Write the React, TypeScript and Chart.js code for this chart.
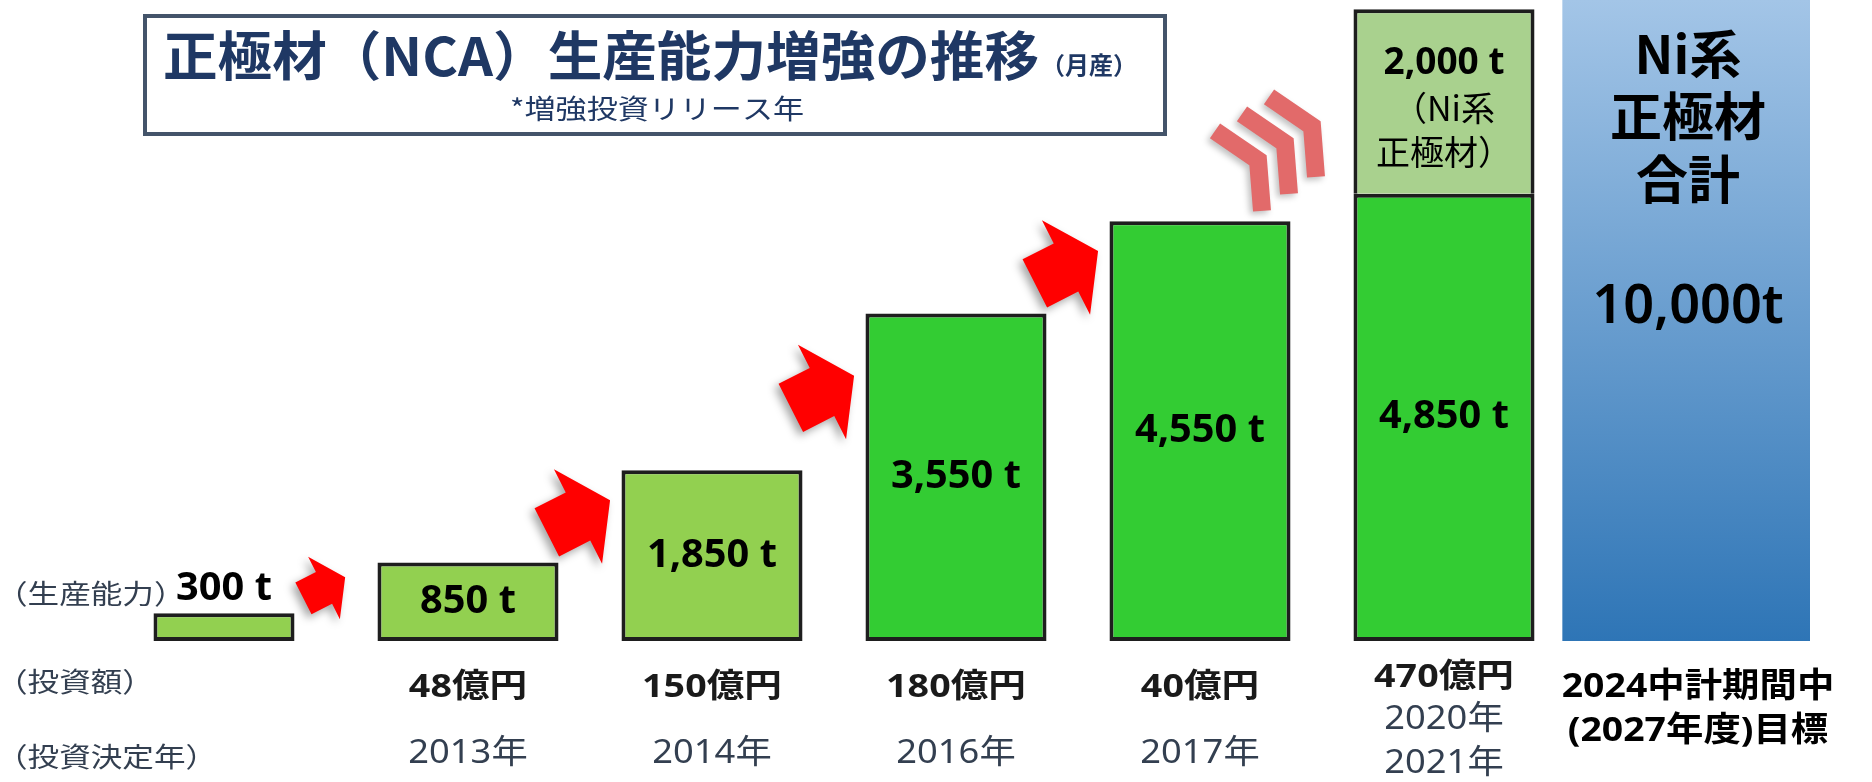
import React, { useEffect, useRef } from 'react';
import { Chart, registerables } from 'chart.js';

Chart.register(...registerables);

// ---------- data ----------
const categories = ['既存', '2013年', '2014年', '2016年', '2017年', '2020・2021年', '2027年度目標'];
const initialCapacity = [300, null, null, null, null, null, null];
const ncaCapacity = [null, 850, 1850, 3550, 4550, 4850, null];
const niCapacity = [null, null, null, null, null, 2000, null];
const targetTotal = [null, null, null, null, null, null, 10000];
const capacityLabels = ['300 t', '850 t', '1,850 t', '3,550 t', '4,550 t', '4,850 t', ''];
const niLabelLines = ['2,000 t', '（Ni系', '正極材）'];
const targetLines = ['Ni系', '正極材', '合計'];
const targetValueLabel = '10,000t';
const investAmounts = ['', '48億円', '150億円', '180億円', '40億円', '470億円', ''];
const decisionYears: string[][] = [[], ['2013年'], ['2014年'], ['2016年'], ['2017年'], ['2020年', '2021年'], []];
const targetPeriod = ['2024中計期間中', '(2027年度)目標'];
const rowLabels = ['（生産能力）', '（投資額）', '（投資決定年）'];
const titleMain = '正極材（NCA）生産能力増強の推移';
const titleUnit = '（月産）';
const titleNote = '*増強投資リリース年';
const barColors = ['#92D050', '#92D050', '#92D050', '#33CC33', '#33CC33', '#33CC33', '#33CC33'];

// ---------- styles ----------
const CJK = "'Noto Sans CJK JP', 'Noto Sans', sans-serif";
const LAT = "'Noto Sans', 'Noto Sans CJK JP', sans-serif";
const NAVY = '#1F3864';
const SLATE = '#333F50';
const BORDER = '#1E1E1E';

function drawText(
  ctx: CanvasRenderingContext2D,
  text: string,
  x: number,
  y: number,
  font: string,
  color: string,
  align: CanvasTextAlign = 'center',
  sx = 1
) {
  ctx.save();
  ctx.font = font;
  ctx.fillStyle = color;
  ctx.textAlign = align;
  ctx.textBaseline = 'middle';
  ctx.translate(x, y);
  ctx.scale(sx, 1);
  ctx.fillText(text, 0, 0);
  ctx.restore();
}

function drawArrow(ctx: CanvasRenderingContext2D, mx: number, my: number, s: number) {
  const th = (-27 * Math.PI) / 180;
  const ux = Math.cos(th), uy = Math.sin(th);
  const vx = -Math.sin(th), vy = Math.cos(th);
  const pts = [[-35, -27], [0, -27], [0, -53], [36, 0], [0, 53], [0, 27], [-35, 27]];
  ctx.save();
  ctx.fillStyle = '#FF0000';
  ctx.shadowColor = 'rgba(0,0,0,0.35)';
  ctx.shadowBlur = 8;
  ctx.shadowOffsetX = -4;
  ctx.shadowOffsetY = 4;
  ctx.beginPath();
  pts.forEach(([u, v], k) => {
    const px = mx + s * (u * ux + v * vx);
    const py = my + s * (u * uy + v * vy);
    if (k === 0) ctx.moveTo(px, py);
    else ctx.lineTo(px, py);
  });
  ctx.closePath();
  ctx.fill();
  ctx.restore();
}

function drawChevrons(ctx: CanvasRenderingContext2D, ax: number, ay: number) {
  ctx.save();
  ctx.strokeStyle = '#E26A6A';
  ctx.lineWidth = 18;
  ctx.lineJoin = 'miter';
  ctx.lineCap = 'butt';
  ctx.shadowColor = 'rgba(0,0,0,0.25)';
  ctx.shadowBlur = 6;
  ctx.shadowOffsetX = -3;
  ctx.shadowOffsetY = 3;
  for (let k = 2; k >= 0; k--) {
    const ox = ax + 27 * k, oy = ay - 17 * k;
    ctx.beginPath();
    ctx.moveTo(ox - 43, oy - 29.5);
    ctx.lineTo(ox, oy);
    ctx.lineTo(ox + 4, oy + 50.5);
    ctx.stroke();
  }
  ctx.restore();
}

const overlayPlugin = {
  id: 'overlay',
  afterDatasetsDraw(chart: any) {
    const ctx: CanvasRenderingContext2D = chart.ctx;
    const area = chart.chartArea;
    const metaInit = chart.getDatasetMeta(0).data;
    const metaNca = chart.getDatasetMeta(1).data;
    const metaNi = chart.getDatasetMeta(2).data;
    const metaTarget = chart.getDatasetMeta(3).data;
    const capEl = (i: number) => (initialCapacity[i] != null ? metaInit[i] : metaNca[i]);

    // title box
    ctx.save();
    ctx.fillStyle = '#FFFFFF';
    ctx.fillRect(145, 16, 1020, 118);
    ctx.strokeStyle = '#44546A';
    ctx.lineWidth = 4;
    ctx.strokeRect(145, 16, 1020, 118);
    ctx.restore();
    ctx.save();
    ctx.font = `bold 53px ${CJK}`;
    const w1 = ctx.measureText(titleMain).width;
    ctx.restore();
    const tsx = 876 / w1;
    drawText(ctx, titleMain, 163, 56, `bold 53px ${CJK}`, NAVY, 'left', tsx);
    drawText(ctx, titleUnit, 163 + w1 * tsx + 2, 65, `bold 24px ${CJK}`, NAVY, 'left', 1);
    drawText(ctx, titleNote, 657, 109, `27px ${CJK}`, NAVY, 'center', 1.15);

    // red arrows between consecutive capacity bars
    for (let i = 0; i < 4; i++) {
      const a = capEl(i), b = capEl(i + 1);
      const gapMid = (a.x + a.width / 2 + (b.x - b.width / 2)) / 2;
      const my = (a.y + b.y) / 2;
      drawArrow(ctx, gapMid - 12, my, i === 0 ? 0.66 : 1);
    }
    // chevrons between 2017 and 2020/2021 bars
    {
      const a = capEl(4), b = capEl(5);
      const gapMid = (a.x + a.width / 2 + (b.x - b.width / 2)) / 2;
      drawChevrons(ctx, gapMid - 64, a.y - 61);
    }

    // capacity labels
    for (let i = 0; i < capacityLabels.length; i++) {
      if (!capacityLabels[i]) continue;
      const el = capEl(i);
      const h = el.base - el.y;
      const y = h < 50 ? el.y - 24 : (el.y + el.base) / 2;
      drawText(ctx, capacityLabels[i], el.x, y, `bold 39px ${LAT}`, '#000', 'center', 1.02);
    }

    // Ni segment labels
    const ni = metaNi[5];
    const niC = (ni.y + ni.base) / 2;
    drawText(ctx, niLabelLines[0], ni.x, niC - 38, `bold 37px ${LAT}`, '#000');
    drawText(ctx, niLabelLines[1], ni.x, niC + 7, `34px ${CJK}`, '#000');
    drawText(ctx, niLabelLines[2], ni.x, niC + 51, `34px ${CJK}`, '#000');

    // target panel labels
    const tg = metaTarget[6];
    const tgOffsets = [54, 116, 179];
    targetLines.forEach((t, k) => drawText(ctx, t, tg.x, area.top + tgOffsets[k], `bold 52px ${CJK}`, '#000'));
    drawText(ctx, targetValueLabel, tg.x, area.top + 308, `600 54px ${LAT}`, '#000');

    // bottom rows
    const bottom = area.bottom;
    for (let i = 0; i < categories.length; i++) {
      const x = capEl(i)?.x ?? tg.x;
      const years = decisionYears[i];
      const two = years.length > 1;
      if (investAmounts[i]) {
        drawText(ctx, investAmounts[i], x, bottom + (two ? 37 : 47), `bold 33px ${LAT}`, '#1A1A1A', 'center', 1.14);
      }
      if (two) {
        drawText(ctx, years[0], x, bottom + 79, `33px ${LAT}`, SLATE, 'center', 1.1);
        drawText(ctx, years[1], x, bottom + 123, `33px ${LAT}`, SLATE, 'center', 1.1);
      } else if (years.length === 1) {
        drawText(ctx, years[0], x, bottom + 113, `33px ${LAT}`, SLATE, 'center', 1.1);
      }
    }
    drawText(ctx, targetPeriod[0], tg.x + 10, bottom + 46, `bold 34px ${LAT}`, '#000', 'center', 1.1);
    drawText(ctx, targetPeriod[1], tg.x + 10, bottom + 90, `bold 34px ${LAT}`, '#000', 'center', 1.1);

    // row labels at left
    const rowY = [bottom - 47, bottom + 41, bottom + 116];
    rowLabels.forEach((t, k) => drawText(ctx, t, -4, rowY[k], `27px ${CJK}`, SLATE, 'left', 1.17));
  },
};

export default function App() {
  const ref = useRef<HTMLCanvasElement>(null);
  useEffect(() => {
    document.body.style.margin = '0';
    const canvas = ref.current!;
    const targetFill = (c: any) => {
      const area = c.chart.chartArea;
      if (!area) return '#5B9BD5';
      const g = c.chart.ctx.createLinearGradient(0, area.top, 0, area.bottom);
      g.addColorStop(0, '#A3C5E7');
      g.addColorStop(1, '#2E75B6');
      return g;
    };
    const chart = new Chart(canvas, {
      type: 'bar',
      data: {
        labels: categories,
        datasets: [
          {
            label: '生産能力（既存）',
            data: initialCapacity,
            backgroundColor: '#92D050',
            borderColor: BORDER,
            borderWidth: 4,
            borderSkipped: false,
            barPercentage: 0.578,
            categoryPercentage: 1,
          },
          {
            label: '生産能力（NCA）',
            data: ncaCapacity,
            backgroundColor: barColors,
            borderColor: BORDER,
            borderWidth: 4,
            borderSkipped: false,
            barPercentage: 0.742,
            categoryPercentage: 1,
          },
          {
            label: 'Ni系正極材',
            data: niCapacity,
            backgroundColor: '#A9D18E',
            borderColor: BORDER,
            borderWidth: 4,
            borderSkipped: 'bottom',
            barPercentage: 0.742,
            categoryPercentage: 1,
          },
          {
            label: 'Ni系正極材合計',
            data: targetTotal,
            backgroundColor: targetFill,
            borderWidth: 0,
            barPercentage: 1.03,
            categoryPercentage: 1,
          },
        ] as any,
      },
      options: {
        responsive: false,
        animation: false,
        devicePixelRatio: 1,
        events: [],
        layout: { padding: { left: 102, right: 62, top: 0, bottom: 141 } },
        plugins: { legend: { display: false }, tooltip: { enabled: false } },
        scales: {
          x: { type: 'category', display: false, stacked: true, grid: { display: false } },
          y: { display: false, stacked: true, min: 0, max: 6950, grid: { display: false } },
        },
      },
      plugins: [overlayPlugin],
    });
    return () => chart.destroy();
  }, []);
  return <canvas ref={ref} width={1872} height={782} style={{ display: 'block', width: 1872, height: 782 }} />;
}
